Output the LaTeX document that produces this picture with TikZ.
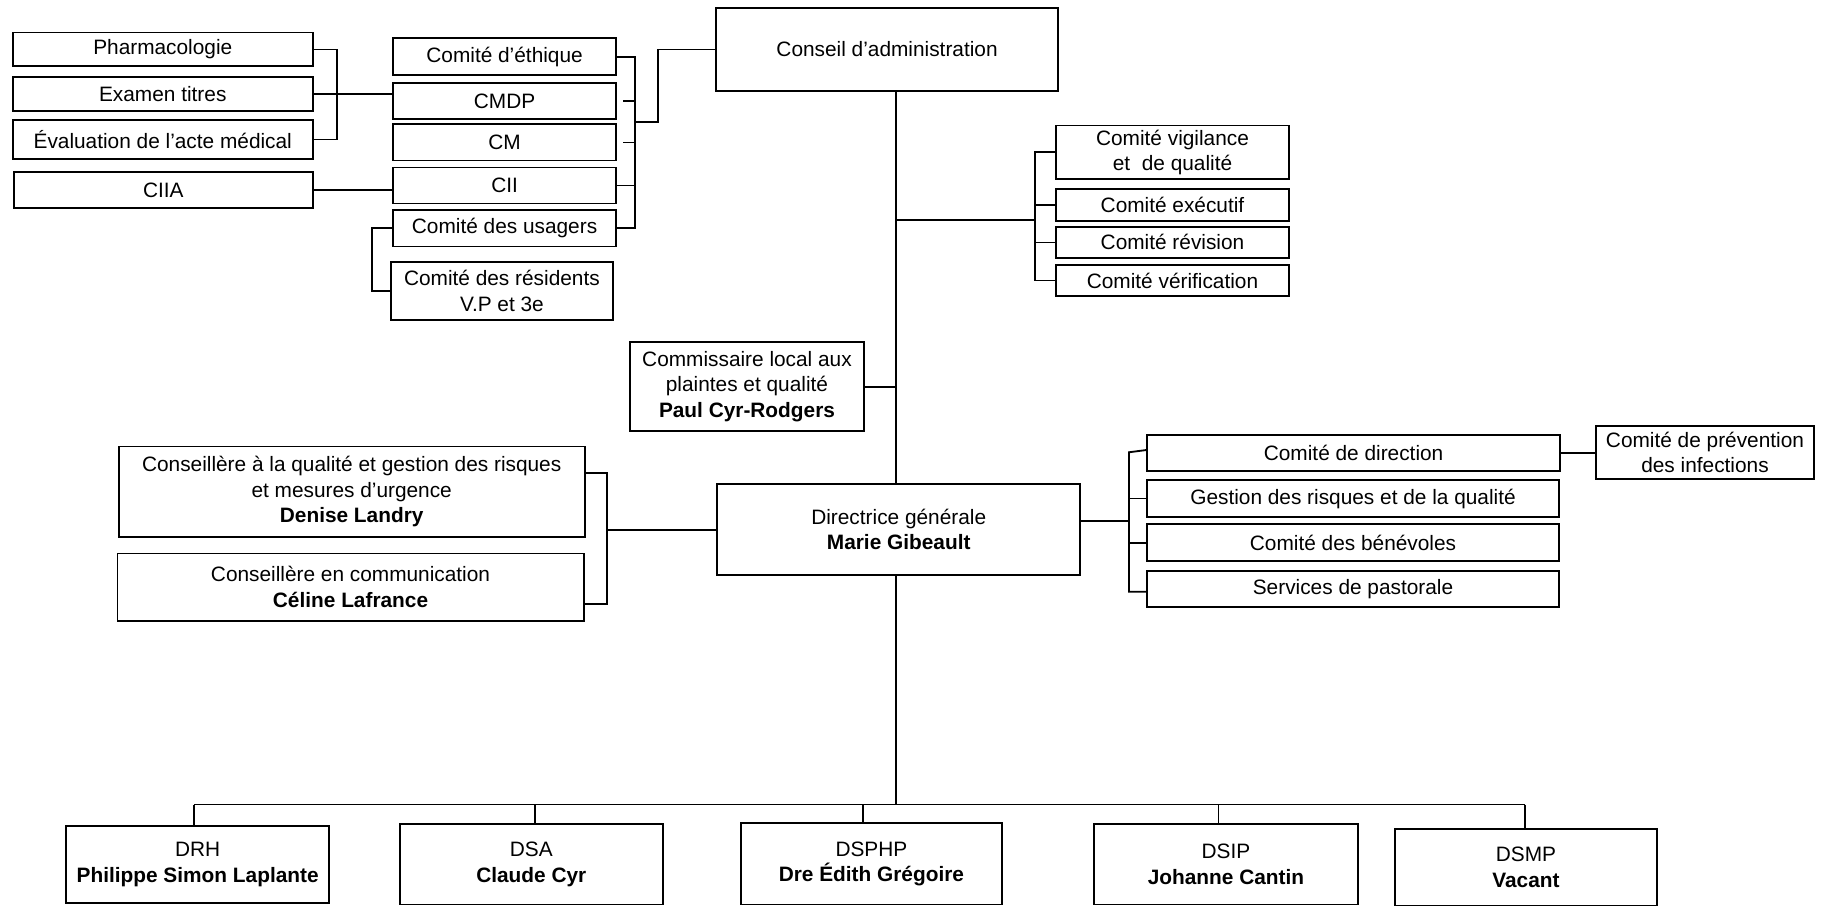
\documentclass[tikz,border=0pt]{standalone}
\usepackage{fontspec}
\setmainfont{Liberation Sans}
\tikzset{
  box/.style={draw, line width=0.9pt, inner sep=0pt, outer sep=0pt, align=center,
              font=\fontsize{10.2}{12.5}\selectfont},
  conn/.style={line width=0.9pt},
}
\newcommand\orgbox[6]{%
  \pgfmathsetmacro\obw{(#4-#2)*0.02}%
  \pgfmathsetmacro\obh{(#5-#3)*0.02}%
  \node[box, minimum width=\obw cm, minimum height=\obh cm] (#1) at ({(#2+#4)/2},{(#3+#5)/2}) {#6};}
\begin{document}
\begin{tikzpicture}[x=0.02cm, y=-0.02cm]
\useasboundingbox (0,0) rectangle (1568,779);
% top-left group
\orgbox{pharm}{11}{28}{269}{57}{Pharmacologie}
\orgbox{examen}{11}{66}{269}{95.5}{Examen titres}
\orgbox{eval}{11}{103}{269}{137}{Évaluation de l’acte médical}
\orgbox{ciia}{12}{148}{269}{179}{CIIA}
\orgbox{ethique}{338}{33}{530}{64.5}{Comité d’éthique}
\orgbox{cmdp}{338}{71.7}{530}{102.6}{CMDP}
\orgbox{cm}{338}{107}{530}{138}{CM}
\orgbox{cii}{338}{144}{530}{175}{CII}
\orgbox{usagers}{338}{180.6}{530}{212}{Comité des usagers}
\orgbox{residents}{336.4}{225.6}{527}{275}{Comité des résidents\\V.P et 3e}
% board
\orgbox{conseil}{616}{7}{910}{78}{Conseil d’administration}
% vigilance group
\orgbox{vigil}{908}{108}{1109}{154}{Comité vigilance\\et~ de qualité}
\orgbox{exec}{908}{162.6}{1109}{190}{Comité exécutif}
\orgbox{revision}{908}{195}{1109}{222}{Comité révision}
\orgbox{verif}{908}{228}{1109}{254.6}{Comité vérification}
% commissaire
\orgbox{commis}{542}{294}{743}{371}{Commissaire local aux\\plaintes et qualité\\\textbf{Paul Cyr-Rodgers}}
% DG
\orgbox{dg}{617}{416}{929}{494.6}{Directrice générale\\\textbf{Marie Gibeault}}
% advisors
\orgbox{qual}{102}{384}{503}{462}{Conseillère à la qualité et gestion des risques\\et mesures d’urgence\\\textbf{Denise Landry}}
\orgbox{comm}{101}{476}{502}{534}{Conseillère en communication\\\textbf{Céline Lafrance}}
% direction group
\orgbox{direction}{986.5}{374}{1342}{405}{Comité de direction}
\orgbox{gestion}{986.5}{413}{1341}{444.5}{Gestion des risques et de la qualité}
\orgbox{benev}{986.5}{451}{1341}{482.6}{Comité des bénévoles}
\orgbox{pastor}{986.5}{491}{1341}{522}{Services de pastorale}
\orgbox{prev}{1373}{366.6}{1560}{412}{Comité de prévention\\des infections}
% directors
\orgbox{drh}{57}{710.5}{283}{777}{DRH\\\textbf{Philippe Simon Laplante}}
\orgbox{dsa}{344}{709}{570}{778}{DSA\\\textbf{Claude Cyr}}
\orgbox{dsphp}{637}{708}{862}{778}{DSPHP\\\textbf{Dre Édith Grégoire}}
\orgbox{dsip}{941}{709}{1168}{778}{DSIP\\\textbf{Johanne Cantin}}
\orgbox{dsmp}{1200}{713}{1425}{779}{DSMP\\\textbf{Vacant}}

% ---- connectors ----
\draw[conn] (pharm.east) -- ++(21,0) |- (eval.east);
\draw[conn] (examen.east) -- (examen.east -| cmdp.west);
\draw[conn] (ciia.east) -- (ciia.east -| cii.west);
\draw[conn] (usagers.west) -- ++(-18,0) |- (residents.west);
\coordinate (rb) at (546,105);
\draw[conn] (ethique.east) -- (ethique.east -| rb) -- (usagers.east -| rb) -- (usagers.east);
\draw[conn] ([xshift=0.12cm]cmdp.east) -- (cmdp.east -| rb);
\draw[conn] ([xshift=0.12cm]cm.east) -- (cm.east -| rb);
\draw[conn] (cii.east) -- (cii.east -| rb);
\draw[conn] (rb) -- ++(20,0) |- (conseil.west);
% main vertical
\coordinate (mv) at (771,0);
\draw[conn] (conseil.south -| mv) -- (dg.north -| mv);
\draw[conn] (commis.east) -- (commis.east -| mv);
% vigilance
\coordinate (vb) at (890,189);
\draw[conn] (vb -| mv) -- (vb);
\draw[conn] (vigil.west) -- (vigil.west -| vb) -- (verif.west -| vb) -- (verif.west);
\draw[conn] (exec.west) -- (exec.west -| vb);
\draw[conn] (revision.west) -- (revision.west -| vb);
% advisors
\coordinate (lbt) at (522,407);
\coordinate (lbb) at (522,519.6);
\coordinate (lb) at (522,456);
\draw[conn] (qual.east |- lbt) -- (lbt) -- (lbb) -- (comm.east |- lbb);
\draw[conn] (lb) -- (lb -| dg.west);
% direction group
\coordinate (rj) at (971,448);
\coordinate (rbt) at (971,389);
\coordinate (rbb) at (971,509);
\draw[conn] (dg.east |- rj) -- (rj);
\draw[conn] ([yshift=0.05cm]direction.west) -- (rbt) -- (rbb) -- (rbb -| pastor.west);
\draw[conn] (gestion.west) -- (gestion.west -| rbt);
\draw[conn] (benev.west) -- (benev.west -| rbt);
\draw[conn] (direction.east) -- (direction.east -| prev.west);
% bottom
\coordinate (d1) at (167,692);
\coordinate (d2) at (460,692);
\coordinate (d3) at (742,692);
\coordinate (d4) at (1048,692);
\coordinate (d5) at (1312,692);
\draw[conn] (dg.south -| mv) -- (d1 -| mv);
\draw[conn] (d1) -- (d5);
\draw[conn] (d1) -- (d1 |- drh.north);
\draw[conn] (d2) -- (d2 |- dsa.north);
\draw[conn] (d3) -- (d3 |- dsphp.north);
\draw[conn] (d4) -- (d4 |- dsip.north);
\draw[conn] (d5) -- (d5 |- dsmp.north);
\end{tikzpicture}
\end{document}
